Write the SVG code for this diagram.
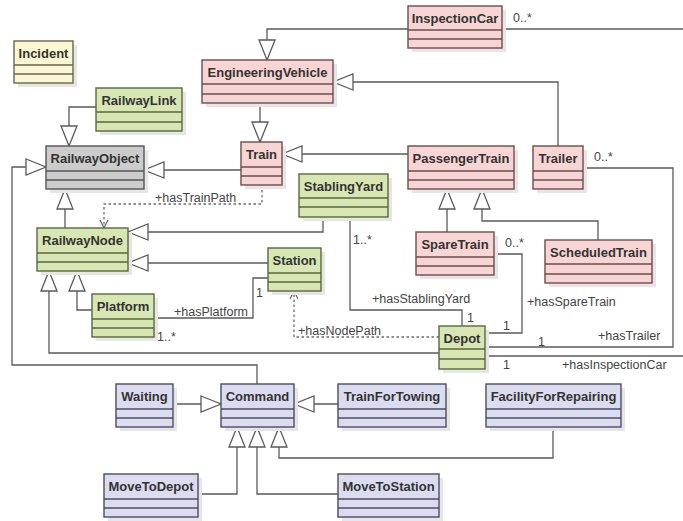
<svg xmlns="http://www.w3.org/2000/svg" width="683" height="521" viewBox="0 0 683 521">
<style>
.sh{fill:#e6e6e6}
.pk{fill:#f8d5d5;stroke:#6e4c4c;stroke-width:1.4}
.gr{fill:#d8e6b4;stroke:#58683c;stroke-width:1.4}
.gy{fill:#cccccc;stroke:#555;stroke-width:1.4}
.yl{fill:#fbf7d3;stroke:#6a6650;stroke-width:1.4}
.lv{fill:#dcdcf0;stroke:#4c4c64;stroke-width:1.4}
.sep{stroke-width:1.4}
.t{font-family:"Liberation Sans",Arial,sans-serif;font-weight:bold;font-size:13px;fill:#333;text-anchor:middle}
.l{font-family:"Liberation Sans",Arial,sans-serif;font-size:12.5px;fill:#444}
.c{fill:none;stroke:#5a5a5a;stroke-width:1.3}
.d{fill:none;stroke:#6a6a6a;stroke-width:1.3;stroke-dasharray:2.5,2.5}
</style>
<defs>
<marker id="tri" markerUnits="userSpaceOnUse" markerWidth="22" markerHeight="18" refX="20" refY="8" orient="auto" overflow="visible">
<path d="M0,0 L20,8 L0,16 Z" fill="#fff" stroke="#5a5a5a" stroke-width="1.3"/>
</marker>
<marker id="opn" markerUnits="userSpaceOnUse" markerWidth="10" markerHeight="10" refX="8" refY="4" orient="auto" overflow="visible">
<path d="M0,0 L8,4 L0,8" fill="none" stroke="#6a6a6a" stroke-width="1.2"/>
</marker>
</defs>
<rect width="683" height="521" fill="#fff"/>

<g id="connectors">
<path class="c" d="M96,107 H69 V146" marker-end="url(#tri)"/>
<path class="c" d="M408,29 H267 V60" marker-end="url(#tri)"/>
<path class="c" d="M558,146 V82 H333" marker-end="url(#tri)"/>
<path class="c" d="M260,103 V142" marker-end="url(#tri)"/>
<path class="c" d="M241,170 H144" marker-end="url(#tri)"/>
<path class="c" d="M408,154 H282" marker-end="url(#tri)"/>
<path class="c" d="M447,232 V189" marker-end="url(#tri)"/>
<path class="c" d="M598,240 V221 H482 V189" marker-end="url(#tri)"/>
<path class="c" d="M65,228 V189" marker-end="url(#tri)"/>
<path class="c" d="M323,217 V232 H128" marker-end="url(#tri)"/>
<path class="c" d="M268,263 H128" marker-end="url(#tri)"/>
<path class="c" d="M92,310 H77 V271" marker-end="url(#tri)"/>
<path class="c" d="M439,353 H49 V271" marker-end="url(#tri)"/>
<path class="c" d="M257,384 V365 H12 V167 H46" marker-end="url(#tri)"/>
<path class="c" d="M173,404 H221" marker-end="url(#tri)"/>
<path class="c" d="M338,404 H294" marker-end="url(#tri)"/>
<path class="c" d="M198,494 H237 V427" marker-end="url(#tri)"/>
<path class="c" d="M338,494 H257 V427" marker-end="url(#tri)"/>
<path class="c" d="M553,427 V458 H279 V427" marker-end="url(#tri)"/>
<path class="c" d="M154,318 H253 V278 H268"/>
<path class="c" d="M350,217 V310 H462 V326"/>
<path class="c" d="M494,254 H522 V333 H485"/>
<path class="c" d="M583,168 H673 V347 H485"/>
<path class="c" d="M502,29 H683"/>
<path class="c" d="M485,356 H683"/>
<path class="d" d="M262,185 V204 H104 V228" marker-end="url(#opn)"/>
<path class="d" d="M439,337 H294 V291" marker-end="url(#opn)"/>
<text class="l" x="513" y="22">0..*</text>
<text class="l" x="594" y="161">0..*</text>
<text class="l" x="155" y="202">+hasTrainPath</text>
<text class="l" x="353" y="244">1..*</text>
<text class="l" x="505" y="247">0..*</text>
<text class="l" x="527" y="306">+hasSpareTrain</text>
<text class="l" x="372" y="303">+hasStablingYard</text>
<text class="l" x="467" y="322">1</text>
<text class="l" x="503" y="330">1</text>
<text class="l" x="538" y="346">1</text>
<text class="l" x="598" y="340">+hasTrailer</text>
<text class="l" x="503" y="369">1</text>
<text class="l" x="562" y="369">+hasInspectionCar</text>
<text class="l" x="298" y="335">+hasNodePath</text>
<text class="l" x="174" y="316">+hasPlatform</text>
<text class="l" x="157" y="341">1..*</text>
<text class="l" x="256" y="297">1</text>
</g>

<g id="Incident"><rect class="sh" x="18" y="45" width="59" height="42"/><rect class="yl" x="14" y="41" width="59" height="42"/><path class="yl sep" d="M14,65 H73 M14,74 H73"/><text class="t" x="43.5" y="58">Incident</text></g>
<g id="RailwayLink"><rect class="sh" x="100" y="92" width="86" height="43"/><rect class="gr" x="96" y="88" width="86" height="43"/><path class="gr sep" d="M96,112 H182 M96,122 H182"/><text class="t" x="139" y="105">RailwayLink</text></g>
<g id="EngineeringVehicle"><rect class="sh" x="206" y="64" width="131" height="43"/><rect class="pk" x="202" y="60" width="131" height="43"/><path class="pk sep" d="M202,84 H333 M202,94 H333"/><text class="t" x="267.5" y="77">EngineeringVehicle</text></g>
<g id="InspectionCar"><rect class="sh" x="412" y="10" width="94" height="42"/><rect class="pk" x="408" y="6" width="94" height="42"/><path class="pk sep" d="M408,30 H502 M408,39 H502"/><text class="t" x="455" y="23">InspectionCar</text></g>
<g id="Train"><rect class="sh" x="245" y="146" width="41" height="43"/><rect class="pk" x="241" y="142" width="41" height="43"/><path class="pk sep" d="M241,167 H282 M241,176 H282"/><text class="t" x="261.5" y="159">Train</text></g>
<g id="RailwayObject"><rect class="sh" x="50" y="150" width="98" height="43"/><rect class="gy" x="46" y="146" width="98" height="43"/><path class="gy sep" d="M46,171 H144 M46,180 H144"/><text class="t" x="95" y="163">RailwayObject</text></g>
<g id="PassengerTrain"><rect class="sh" x="412" y="150" width="106" height="43"/><rect class="pk" x="408" y="146" width="106" height="43"/><path class="pk sep" d="M408,171 H514 M408,180 H514"/><text class="t" x="461" y="163">PassengerTrain</text></g>
<g id="Trailer"><rect class="sh" x="537" y="150" width="50" height="43"/><rect class="pk" x="533" y="146" width="50" height="43"/><path class="pk sep" d="M533,171 H583 M533,180 H583"/><text class="t" x="558" y="163">Trailer</text></g>
<g id="StablingYard"><rect class="sh" x="303" y="178" width="89" height="43"/><rect class="gr" x="299" y="174" width="89" height="43"/><path class="gr sep" d="M299,198 H388 M299,207 H388"/><text class="t" x="343.5" y="191">StablingYard</text></g>
<g id="Station"><rect class="sh" x="272" y="252" width="53" height="43"/><rect class="gr" x="268" y="248" width="53" height="43"/><path class="gr sep" d="M268,273 H321 M268,282 H321"/><text class="t" x="294.5" y="265">Station</text></g>
<g id="SpareTrain"><rect class="sh" x="420" y="236" width="78" height="43"/><rect class="pk" x="416" y="232" width="78" height="43"/><path class="pk sep" d="M416,257 H494 M416,266 H494"/><text class="t" x="455" y="249">SpareTrain</text></g>
<g id="ScheduledTrain"><rect class="sh" x="549" y="244" width="107" height="43"/><rect class="pk" x="545" y="240" width="107" height="43"/><path class="pk sep" d="M545,264 H652 M545,274 H652"/><text class="t" x="598.5" y="257">ScheduledTrain</text></g>
<g id="RailwayNode"><rect class="sh" x="41" y="232" width="91" height="43"/><rect class="gr" x="37" y="228" width="91" height="43"/><path class="gr sep" d="M37,253 H128 M37,262 H128"/><text class="t" x="82.5" y="245">RailwayNode</text></g>
<g id="Platform"><rect class="sh" x="96" y="298" width="62" height="43"/><rect class="gr" x="92" y="294" width="62" height="43"/><path class="gr sep" d="M92,319 H154 M92,328 H154"/><text class="t" x="123" y="311">Platform</text></g>
<g id="Depot"><rect class="sh" x="443" y="330" width="46" height="43"/><rect class="gr" x="439" y="326" width="46" height="43"/><path class="gr sep" d="M439,349 H485 M439,359 H485"/><text class="t" x="462" y="343">Depot</text></g>
<g id="Command"><rect class="sh" x="225" y="388" width="73" height="43"/><rect class="lv" x="221" y="384" width="73" height="43"/><path class="lv sep" d="M221,409 H294 M221,418 H294"/><text class="t" x="257.5" y="401">Command</text></g>
<g id="Waiting"><rect class="sh" x="120" y="388" width="57" height="43"/><rect class="lv" x="116" y="384" width="57" height="43"/><path class="lv sep" d="M116,409 H173 M116,418 H173"/><text class="t" x="144.5" y="401">Waiting</text></g>
<g id="MoveToDepot"><rect class="sh" x="108" y="478" width="94" height="43"/><rect class="lv" x="104" y="474" width="94" height="43"/><path class="lv sep" d="M104,499 H198 M104,508 H198"/><text class="t" x="151" y="491">MoveToDepot</text></g>
<g id="TrainForTowing"><rect class="sh" x="342" y="388" width="108" height="43"/><rect class="lv" x="338" y="384" width="108" height="43"/><path class="lv sep" d="M338,409 H446 M338,418 H446"/><text class="t" x="392" y="401">TrainForTowing</text></g>
<g id="FacilityForRepairing"><rect class="sh" x="490" y="388" width="135" height="43"/><rect class="lv" x="486" y="384" width="135" height="43"/><path class="lv sep" d="M486,409 H621 M486,418 H621"/><text class="t" x="553.5" y="401">FacilityForRepairing</text></g>
<g id="MoveToStation"><rect class="sh" x="342" y="478" width="101" height="43"/><rect class="lv" x="338" y="474" width="101" height="43"/><path class="lv sep" d="M338,499 H439 M338,508 H439"/><text class="t" x="388.5" y="491">MoveToStation</text></g>
</svg>
